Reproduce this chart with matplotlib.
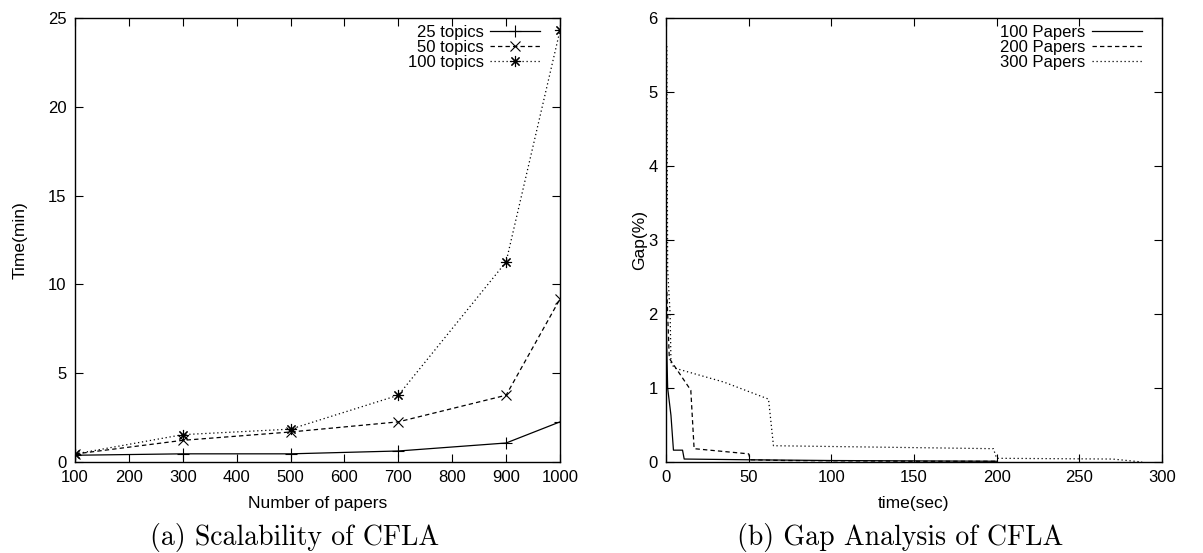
import matplotlib
matplotlib.use("Agg")
import matplotlib.pyplot as plt

plt.rcParams['font.family'] = ['Liberation Sans', 'DejaVu Sans']

# ---- Data: left panel (Scalability) ----
papers = [100, 300, 500, 700, 900, 1000]
t25 = [0.38, 0.46, 0.46, 0.62, 1.07, 2.26]
t50 = [0.45, 1.22, 1.69, 2.26, 3.76, 9.18]
t100 = [0.45, 1.54, 1.85, 3.76, 11.27, 24.3]
left_labels = ["25 topics", "50 topics", "100 topics"]

# ---- Data: right panel (Gap analysis) ----
p100_t = [0, 1, 3, 4.5, 10, 11, 50, 100, 200]
p100_g = [2.0, 1.0, 0.63, 0.16, 0.16, 0.04, 0.03, 0.02, 0.01]
p200_t = [0.5, 2, 15, 17, 50, 51, 72, 150, 200]
p200_g = [2.3, 1.4, 0.97, 0.18, 0.11, 0.03, 0.02, 0.01, 0.01]
p300_t = [0.5, 1, 2.5, 3, 5, 35, 62, 65, 198, 200, 270, 288]
p300_g = [5.62, 2.6, 2.0, 1.35, 1.27, 1.08, 0.85, 0.22, 0.18, 0.05, 0.04, 0.0]
right_labels = ["100 Papers", "200 Papers", "300 Papers"]

fig = plt.figure(figsize=(12.03, 5.53), dpi=100)
W, H = 1203, 553
ax1 = fig.add_axes([75 / W, 1 - 462 / H, 485 / W, 444 / H])
ax2 = fig.add_axes([666 / W, 1 - 462 / H, 496 / W, 444 / H])

lw = 0.9
dash = (0, (3.5, 2.5))
dot = (0, (1, 2.2))
ax1.plot(papers, t25, color='black', lw=lw, ls='-', marker='+', ms=9, mew=0.8, label=left_labels[0])
ax1.plot(papers, t50, color='black', lw=lw, ls=dash, marker='x', ms=7, mew=0.8, label=left_labels[1])
ax1.plot(papers, t100, color='black', lw=lw, ls=dot, marker=(8, 2, 0), ms=8, mew=0.8, label=left_labels[2])
ax1.set_xlim(100, 1000)
ax1.set_ylim(0, 25)
ax1.set_xticks(range(100, 1001, 100))
ax1.set_yticks(range(0, 26, 5))
ax1.set_xlabel("Number of papers", fontsize=12.5, labelpad=8)
ax1.set_ylabel("Time(min)", fontsize=12.5)
ax1.yaxis.set_label_coords((20 - 75) / 485, 0.5)
ax1.yaxis.label.set_verticalalignment('center')

ax2.plot(p100_t, p100_g, color='black', lw=lw, ls='-', label=right_labels[0])
ax2.plot(p200_t, p200_g, color='black', lw=lw, ls=dash, label=right_labels[1])
ax2.plot(p300_t, p300_g, color='black', lw=lw, ls=dot, label=right_labels[2])
ax2.set_xlim(0, 300)
ax2.set_ylim(0, 6)
ax2.set_xticks(range(0, 301, 50))
ax2.set_yticks(range(0, 7, 1))
ax2.set_xlabel("time(sec)", fontsize=12.5, labelpad=8)
ax2.set_ylabel("Gap(%)", fontsize=12.5)
ax2.yaxis.set_label_coords((640 - 666) / 496, 0.5)
ax2.yaxis.label.set_verticalalignment('center')

for ax, wpx in ((ax1, 485), (ax2, 496)):
    ax.tick_params(direction='in', length=6, width=0.8, top=True, right=True, labelsize=12, pad=6)
    for s in ax.spines.values():
        s.set_linewidth(1.0)
    ax.legend(loc='upper right', bbox_to_anchor=(1 - 13 / wpx, 1), frameon=False,
              markerfirst=False, fontsize=12, handlelength=3.0, labelspacing=0.0,
              borderaxespad=0.2, handletextpad=0.4, borderpad=0.2)

fig.text(295 / W, 1 - 537 / H, "(a) Scalability of CFLA", ha='center', va='center',
         fontsize=20, family='cmr10')
fig.text(900 / W, 1 - 537 / H, "(b) Gap Analysis of CFLA", ha='center', va='center',
         fontsize=20, family='cmr10')

fig.savefig("out.png", dpi=100)
